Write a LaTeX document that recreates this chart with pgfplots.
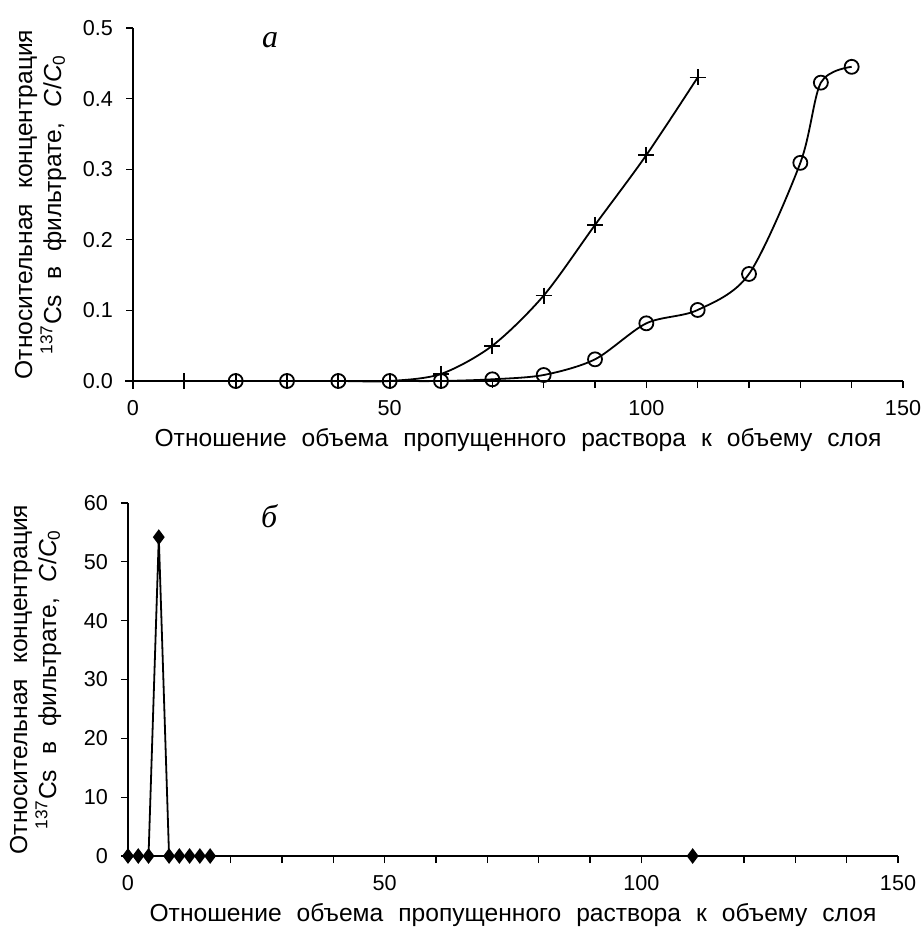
\documentclass[border=0pt]{standalone}
\usepackage{pgfplots}
\pgfplotsset{compat=1.18}
\usepackage{fontspec}
\setmainfont{Liberation Sans}
\newfontfamily\labelfont[WordSpace=2.2]{Liberation Sans}
\newfontfamily\serifit{Liberation Serif}
\pgfplotsset{mystyle/.style={
  scale only axis, width=385pt, height=176.5pt,
  xmin=0, xmax=150,
  axis lines=left, axis line style={-, line width=0.6pt},
  tick align=outside,
  xtick={0,50,100,150}, minor xtick={10,20,...,140},
  major tick length=3.5pt, minor tick length=3.5pt,
  tick style={black, line width=0.6pt},
  ticklabel style={font=\fontsize{10.8}{13}\selectfont},
  xticklabel style={yshift=-2.5pt},
  yticklabel style={xshift=-3pt},
  /pgf/number format/assume math mode=true,
  label style={font=\labelfont\fontsize{12.3}{14.5}\selectfont},
  ylabel style={align=center, at={(axis description cs:-0.12,0.5)}, anchor=center},
  xlabel style={at={(axis description cs:0.5,-0.167)}, anchor=center},
  xlabel={Отношение объема пропущенного раствора к объему слоя},
  ylabel={Относительная концентрация\\\textsuperscript{137}Cs в фильтрате, \textit{C}/\textit{C}\textsubscript{0}},
  clip=false,
}}
\begin{document}
\begin{tikzpicture}
\useasboundingbox (0,0) rectangle (460.5pt,-468pt);
\begin{axis}[mystyle, at={(66.5pt,-190.5pt)}, anchor=south west,
  ymin=0, ymax=0.5, ytick={0,0.1,0.2,0.3,0.4,0.5},
  yticklabel style={/pgf/number format/.cd, fixed, fixed zerofill, precision=1}]
\addplot[black, line width=0.9pt, smooth, tension=0.5, mark=+, mark size=4pt, mark options={line width=0.9pt}]
 coordinates {(0,0) (10,0) (20,0) (30,0) (40,0) (50,0) (60,0.01) (70,0.05) (80,0.121) (90,0.221) (100,0.32) (110,0.43)};
\addplot[black, line width=0.9pt, smooth, tension=0.5, mark=o, mark size=3.5pt, mark options={line width=0.9pt}]
 coordinates {(20,0) (30,0) (40,0) (50,0) (60,0) (70,0.0024) (80,0.0085) (90,0.0307) (100,0.0817) (110,0.1006) (120,0.1516) (130,0.309) (134,0.4226) (140,0.445)};
\node[font=\serifit\itshape\fontsize{16}{16}\selectfont] at (axis cs:26.7,0.483) {а};
\end{axis}
\begin{axis}[mystyle, at={(64pt,-428pt)}, anchor=south west,
  ymin=0, ymax=60, ytick={0,10,20,30,40,50,60}]
\addplot[black, line width=0.9pt, mark=diamond*, mark size=3.2pt]
 coordinates {(0,0) (2,0) (4,0) (6,54.2) (8,0) (10,0) (12,0) (14,0) (16,0) (110,0)};
\node[font=\serifit\itshape\fontsize{16}{16}\selectfont] at (axis cs:27.5,57.8) {б};
\end{axis}
\end{tikzpicture}
\end{document}
